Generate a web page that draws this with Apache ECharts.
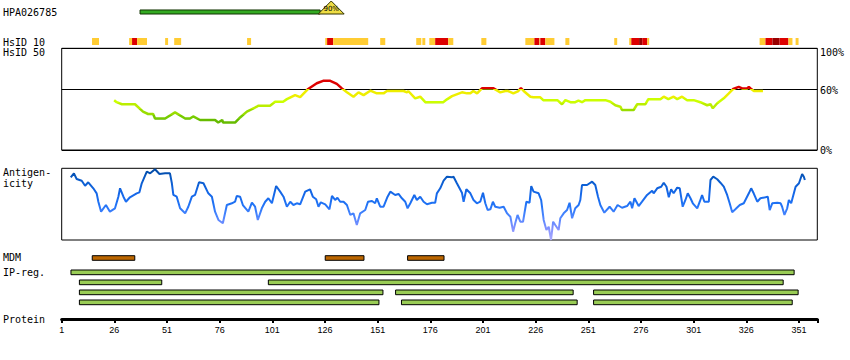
<!DOCTYPE html>
<html><head><meta charset="utf-8">
<script src="https://cdn.jsdelivr.net/npm/echarts@6/dist/echarts.min.js"></script>
<style>html,body{margin:0;padding:0;background:#fff}#c{width:850px;height:360px}</style>
</head><body><div id="c"></div>
<script>
// ---------------- data (residue positions) ----------------
const proteinLength = 359.7;
const tickLabels = [1, 26, 51, 76, 101, 126, 151, 176, 201, 226, 251, 276, 301, 326, 351];
const antibodyName = 'HPA026785';
const antibodyRange = [38.2, 123.7];
const antibodyScoreRange = [122.8, 135.1];
const antibodyScore = '90%';
const rowLabels = ['HsID 10', 'HsID 50', 'Antigen-', 'icity', 'MDM', 'IP-reg.', 'Protein'];
const percentLabels = ['100%', '60%', '0%'];
// [start, end, level] level 1=gold, 2=red, 3=dark red
const hsid10Cells = [
  [15.4,18.7,1],[33.0,34.4,1],[34.4,36.8,2],[36.8,41.5,1],[50.1,51.5,1],[54.4,57.7,1],
  [89.0,90.9,1],[126.1,127.0,1],[127.0,129.9,2],[129.9,146.5,1],[152.2,154.6,1],
  [169.3,171.7,1],[172.2,173.6,1],[175.5,178.3,1],[178.3,184.5,2],[184.5,186.9,1],
  [200.2,202.6,1],[221.1,225.4,1],[225.4,227.8,2],[227.8,228.2,1],[228.2,230.6,2],
  [230.6,234.9,1],[240.1,242.0,1],[263.3,264.7,1],[270.4,271.4,1],[271.4,275.1,2],
  [275.1,276.6,3],[276.6,279.0,2],[279.0,279.9,1],[332.3,335.1,1],[335.1,338.4,2],
  [338.4,341.8,3],[341.8,346.0,2],[346.0,347.9,1],[349.4,350.8,1]
];
// [residue, identity %]
const hsid50Profile = [
  [25.9,49],[27.1,47],[29.6,45],[35.8,45],[39.6,37.7],[42.0,35.4],[44.4,35.4],[45.3,31],[50.1,31],
  [54.8,37],[59.6,31],[61.9,31],[63.4,33],[66.7,29.5],[73.8,29.5],[75.3,27],[77.2,29.5],[77.6,27],
  [83.3,27],[85.7,32],[88.9,37.7],[93.6,42.6],[94.3,43.6],[99.9,43.6],[102.3,47.5],[106.1,47.5],
  [107.9,50],[111.8,54],[114.2,52],[118.0,60],[122.1,65.6],[125.1,68],[128.5,68],[131.6,65],
  [134.0,60.6],[136.4,56.7],[139.5,52.4],[141.9,56.7],[144.3,54],[147.5,58.3],[150.6,55.7],
  [153.8,55.7],[155.4,58],[163.3,58],[164.9,56.7],[165.5,58],[168.8,50.8],[171.2,52.4],[173.6,47],
  [182.1,47],[183.9,49.8],[186.3,53],[191.0,56.7],[193.4,55.7],[195.0,55.7],[196.4,58],[198.2,55.7],
  [200.5,60.6],[206.0,60.6],[209.2,56.7],[211.6,58],[213.0,58],[215.4,55.7],[217.8,58],[219.0,61],
  [220.3,58],[223.5,52.4],[224.9,51.8],[228.2,51.8],[229.6,49],[236.3,49],[238.5,45],[240.1,49],
  [242.5,47],[244.8,47],[246.3,48.5],[248.0,47],[249.6,49],[259.1,49],[261.5,47.5],[263.8,44],
  [266.2,42.6],[267.0,39.3],[272.5,39.3],[274.2,45],[278.1,45],[279.5,50],[285.2,50],[286.8,52.4],
  [289.0,50],[291.5,52.4],[293.2,50],[295.5,52.4],[297.9,49],[301.0,49],[304.2,47],[307.4,44],
  [309.0,45],[310.1,41],[312.2,46],[315.3,50.8],[317.7,55.7],[319.8,60],[322.4,62],[324.0,60.5],
  [326.4,60.5],[327.2,62],[328.0,60.5],[329.6,58],[333.9,58]
];
// [residue, antigenicity (0-100 of panel)]
const antigenProfile = [
  [5.3,87.4],[6.8,93.0],[8.1,85.1],[10.5,82.7],[12.1,75.7],[13.6,80.5],[16.0,72.1],[17.6,65.1],
  [18.4,53.4],[19.7,39.5],[22.0,48.8],[23.9,39.5],[26.3,44.2],[27.9,60.4],[28.7,72.1],[30.3,60.4],
  [31.5,53.4],[33.4,59.6],[36.6,65.1],[37.9,66.5],[39.0,79.1],[41.4,95.3],[43.0,93.0],[45.3,98.6],
  [47.4,92.1],[50.1,93.0],[52.4,93.0],[53.3,79.1],[54.0,62.8],[55.6,60.4],[57.2,44.2],[59.6,37.2],
  [61.1,46.4],[62.8,60.4],[64.3,62.8],[66.2,80.5],[68.3,79.1],[70.6,65.1],[72.3,60.4],[73.8,39.5],
  [75.4,27.9],[77.5,23.3],[79.4,48.8],[81.8,51.2],[83.3,53.4],[84.1,61.4],[85.7,60.4],[87.0,48.8],
  [89.6,39.5],[91.3,52.0],[92.8,46.4],[94.1,27.9],[96.0,44.2],[97.6,53.4],[99.1,58.2],[100.8,51.2],
  [102.8,75.3],[104.7,67.4],[106.3,60.4],[107.9,46.4],[109.5,53.4],[111.0,48.8],[112.6,51.2],
  [114.2,49.8],[116.6,67.4],[118.9,70.7],[120.2,60.4],[121.8,56.8],[122.9,46.4],[124.0,52.6],
  [126.1,49.8],[128.1,42.8],[129.3,61.4],[130.8,55.8],[131.9,59.0],[133.2,53.4],[134.8,53.4],
  [136.4,48.8],[138.0,34.9],[139.5,37.2],[141.1,20.9],[142.7,37.2],[145.1,41.8],[146.4,53.4],
  [148.3,54.4],[149.8,51.2],[150.6,58.2],[152.2,46.4],[153.8,46.4],[155.7,60.4],[157.0,67.4],
  [159.3,62.8],[160.9,64.2],[162.5,58.2],[164.1,53.4],[165.2,44.2],[166.5,51.2],[168.4,62.8],
  [169.6,55.8],[171.2,60.4],[172.8,53.4],[174.4,49.8],[176.8,52.0],[178.3,52.0],[179.1,65.1],
  [180.7,72.1],[182.3,82.7],[183.9,88.3],[186.3,87.4],[187.0,88.3],[188.6,79.1],[191.0,66.0],
  [191.8,53.4],[193.1,70.7],[195.0,65.1],[196.5,55.8],[198.1,51.2],[199.7,53.4],[201.0,66.0],
  [202.1,51.2],[203.2,41.8],[204.5,42.8],[205.7,53.4],[206.8,46.4],[208.9,45.0],[210.8,46.4],
  [212.4,37.2],[214.0,32.5],[215.3,11.6],[216.3,23.3],[217.4,34.9],[218.7,25.5],[220.0,25.5],
  [221.6,53.4],[223.1,52.0],[223.9,75.3],[225.0,67.4],[227.4,65.1],[228.6,55.8],[229.8,27.9],
  [231.1,13.9],[232.2,18.5],[233.3,0],[234.3,25.5],[235.3,20.9],[236.9,13.9],[237.7,30.3],
  [239.3,37.2],[240.9,41.8],[242.1,52.0],[243.3,30.3],[244.8,44.2],[246.4,48.8],[247.2,55.8],
  [248.0,76.7],[250.4,76.7],[252.8,81.3],[254.3,76.7],[255.6,60.4],[256.7,48.8],[258.6,38.1],
  [261.1,46.4],[263.0,39.5],[264.9,48.8],[267.0,45.0],[269.4,47.4],[271.0,53.4],[271.8,44.2],
  [272.9,58.2],[274.9,47.4],[276.5,53.4],[278.9,62.8],[281.3,68.8],[282.0,65.1],[283.7,72.1],
  [285.6,74.3],[286.8,79.9],[288.1,74.3],[289.2,59.6],[290.3,70.7],[291.5,65.1],[293.2,73.0],
  [294.4,72.1],[295.8,46.4],[297.1,55.8],[298.2,65.1],[299.5,58.2],[300.6,51.2],[302.7,44.2],
  [303.9,53.4],[305.0,62.8],[306.1,53.4],[308.2,53.4],[309.0,83.7],[310.3,88.3],[312.2,84.7],
  [313.7,79.9],[315.3,74.3],[316.9,62.8],[318.1,51.2],[319.3,38.6],[320.8,42.8],[322.9,48.8],
  [324.8,51.2],[327.2,65.1],[328.3,72.1],[329.5,65.1],[331.2,53.4],[332.7,58.2],[335.1,59.6],
  [336.2,60.4],[337.1,41.8],[338.3,51.2],[340.7,52.0],[342.3,51.2],[343.0,46.4],[344.1,34.9],
  [345.4,44.2],[346.2,55.8],[347.3,51.2],[349.4,74.3],[351.0,79.1],[352.5,92.1],[353.3,88.3],
  [353.8,83.7]
];
const mdmRegions = [[15.5,35.7],[126.1,144.5],[165.2,182.5]];
// [row, start, end]
const ipRegions = [
  [0,5.4,348.7],
  [1,9.4,48.5],[1,99.1,343.5],
  [2,9.4,153.5],[2,159.5,243.8],[2,253.5,350.6],
  [3,9.4,151.6],[3,162.3,245.7],[3,253.5,347.8]
];

// ---------------- chart ----------------
const chart = echarts.init(document.getElementById('c'), null, {renderer: 'svg', width: 850, height: 360});
const L = 61.7, W = 755.6;
const gridDefs = [
  {top: 1, height: 13},        // 0 antibody
  {top: 38, height: 7},        // 1 HsID 10
  {top: 48.3, height: 101.7, show: true, borderColor: '#000', borderWidth: 1}, // 2 HsID 50
  {top: 168.3, height: 71.7, show: true, borderColor: '#000', borderWidth: 1}, // 3 antigenicity
  {top: 255.7, height: 4.6},   // 4 MDM
  {top: 270, height: 40},      // 5 IP-reg
  {top: 318, height: 1}        // 6 protein axis
];
const grids = gridDefs.map(g => Object.assign({left: L, width: W, containLabel: false, outerBoundsMode: 'none', backgroundColor: 'transparent'}, g));
const xAxes = grids.map((g, i) => ({gridIndex: i, type: 'value', min: 1, max: proteinLength, show: false}));
xAxes[6] = {
  gridIndex: 6, type: 'value', min: 0, max: proteinLength - 1, interval: 25,
  axisLine: {show: true, lineStyle: {color: '#000', width: 3}},
  axisTick: {show: true, length: 4, lineStyle: {color: '#000', width: 2}},
  axisLabel: {color: '#000', fontSize: 9, fontFamily: 'Liberation Sans', margin: 6,
    formatter: v => tickLabels.indexOf(Math.round(v + 1)) >= 0 && Math.abs(v - Math.round(v)) < 1e-6 ? String(Math.round(v + 1)) : ''},
  splitLine: {show: false}
};
const yAxes = [
  {gridIndex: 0, type: 'value', min: 0, max: 1, show: false},
  {gridIndex: 1, type: 'value', min: 0, max: 1, show: false},
  {gridIndex: 2, type: 'value', min: 0, max: 100, interval: 60, axisLine: {show: false}, axisTick: {show: false},
    axisLabel: {show: false}, splitLine: {show: true, lineStyle: {color: '#000', width: 1}}},
  {gridIndex: 3, type: 'value', min: 0, max: 100, show: false},
  {gridIndex: 4, type: 'value', min: 0, max: 1, show: false},
  {gridIndex: 5, type: 'value', min: 0, max: 4, inverse: true, show: false},
  {gridIndex: 6, type: 'value', min: 0, max: 1, show: false}
];

const cellColors = {1: '#ffcc33', 2: '#dd0000', 3: '#990000'};

function rect(p0, p1, style) {
  return {type: 'rect', shape: {x: Math.min(p0[0], p1[0]), y: Math.min(p0[1], p1[1]),
    width: Math.abs(p1[0] - p0[0]), height: Math.abs(p1[1] - p0[1])}, style: style};
}

const series = [
  { // antibody bar + score triangle
    type: 'custom', xAxisIndex: 0, yAxisIndex: 0, silent: true,
    data: [[antibodyRange[0], antibodyRange[1], antibodyScoreRange[0], antibodyScoreRange[1]]],
    renderItem: (params, api) => {
      const s = api.value(0), e = api.value(1), ts = api.value(2), te = api.value(3);
      const tm = (ts + te) / 2;
      const a = api.coord([ts, 0]), b = api.coord([te, 0]), c = api.coord([tm, 1]);
      const tp = api.coord([tm, 0.42]);
      return {type: 'group', children: [
        rect(api.coord([s, 0.31]), api.coord([e, 0]), {fill: '#33aa22', stroke: '#113300', lineWidth: 1}),
        {type: 'polygon', shape: {points: [a, b, c]}, style: {fill: '#eedd44', stroke: '#333300', lineWidth: 1}},
        {type: 'text', x: tp[0], y: tp[1], style: {text: antibodyScore, fill: '#000', font: '7px "DejaVu Sans"',
          align: 'center', verticalAlign: 'middle', textAlign: 'center', textVerticalAlign: 'middle'}}
      ]};
    }
  },
  { // HsID 10 cells
    type: 'custom', xAxisIndex: 1, yAxisIndex: 1, silent: true, data: hsid10Cells,
    renderItem: (params, api) => rect(api.coord([api.value(0), 1]), api.coord([api.value(1), 0]),
      {fill: cellColors[api.value(2)]})
  },
  { // HsID 50 profile
    type: 'line', xAxisIndex: 2, yAxisIndex: 2, data: hsid50Profile, symbol: 'none', silent: true,
    lineStyle: {width: 2.5}, z: 3
  },
  { // antigenicity
    type: 'line', xAxisIndex: 3, yAxisIndex: 3, data: antigenProfile, symbol: 'none', silent: true,
    lineStyle: {width: 2}, z: 3
  },
  { // MDM
    type: 'custom', xAxisIndex: 4, yAxisIndex: 4, silent: true, data: mdmRegions,
    renderItem: (params, api) => rect(api.coord([api.value(0), 1]), api.coord([api.value(1), 0]),
      {fill: '#bb6600', stroke: '#000', lineWidth: 1})
  },
  { // IP regions
    type: 'custom', xAxisIndex: 5, yAxisIndex: 5, silent: true, data: ipRegions,
    encode: {x: [1, 2], y: 0},
    renderItem: (params, api) => {
      const r = api.value(0);
      return rect(api.coord([api.value(1), r]), api.coord([api.value(2), r + 0.47]),
        {fill: '#99cc55', stroke: '#000', lineWidth: 1});
    }
  }
];

const monoFont = '10px "DejaVu Sans Mono"';
const leftY = [42, 52, 172.7, 183, 257.7, 272.5, 319.3];
const graphics = [{type: 'text', x: 3, y: 12.7, style: {text: antibodyName, font: monoFont, fill: '#000', textVerticalAlign: 'middle', verticalAlign: 'middle'}}];
rowLabels.forEach((t, i) => graphics.push({type: 'text', x: 3, y: leftY[i],
  style: {text: t, font: monoFont, fill: '#000', textVerticalAlign: 'middle', verticalAlign: 'middle'}}));
const pctY = [52.7, 90.7, 150];
percentLabels.forEach((t, i) => graphics.push({type: 'text', x: 820, y: pctY[i],
  style: {text: t, font: monoFont, fill: '#000', textVerticalAlign: 'middle', verticalAlign: 'middle'}}));

chart.setOption({
  animation: false,
  backgroundColor: '#fff',
  grid: grids, xAxis: xAxes, yAxis: yAxes, series: series, graphic: graphics,
  visualMap: [
    {type: 'piecewise', show: false, seriesIndex: 2, dimension: 1, pieces: [
      {lt: 30, color: '#66bb00'}, {gte: 30, lt: 34, color: '#77cc00'}, {gte: 34, lt: 40, color: '#99dd00'},
      {gte: 40, lt: 46, color: '#bbee00'}, {gte: 46, lt: 51, color: '#ccff00'}, {gte: 51, lt: 60, color: '#eeee00'},
      {gte: 60, color: '#dd0000'}]},
    {type: 'continuous', show: false, seriesIndex: 3, dimension: 1, min: 0, max: 100,
      inRange: {color: ['#aaaaff', '#8090ff', '#4a85ff', '#1f72f5', '#1466e6', '#0a5ccc', '#0048a0']}}
  ]
});
</script></body></html>
